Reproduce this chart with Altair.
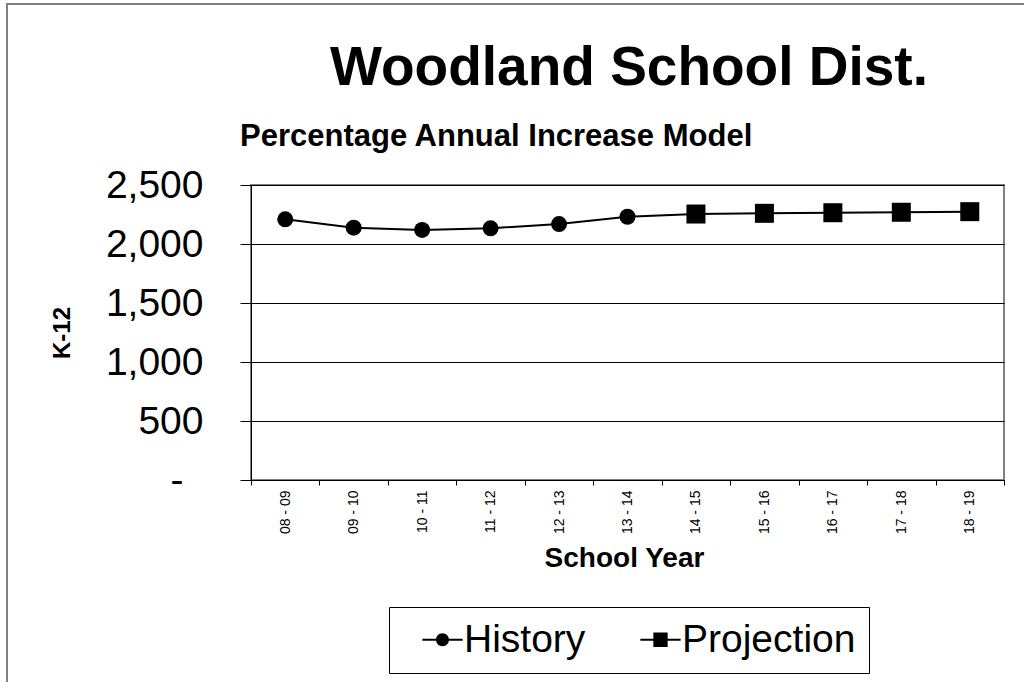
import altair as alt
import pandas as pd

# ---- data ----
school_years = ["08 - 09", "09 - 10", "10 - 11", "11 - 12", "12 - 13", "13 - 14",
                "14 - 15", "15 - 16", "16 - 17", "17 - 18", "18 - 19"]
k12_enrollment = [2209, 2138, 2119, 2133, 2169, 2231, 2254, 2260, 2265, 2269, 2274]
series_names = ["History", "History", "History", "History", "History", "History",
                "Projection", "Projection", "Projection", "Projection", "Projection"]
legend_labels = ["History", "Projection"]
y_ticks = [0, 500, 1000, 1500, 2000, 2500]
chart_title = "Woodland School Dist."
chart_subtitle = "Percentage Annual Increase Model"
x_title = "School Year"
y_title = "K-12"

FONT = "Liberation Sans"
W, H = 753, 295
PAD = {"left": 251, "top": 185, "right": 20, "bottom": 202}

df = pd.DataFrame({"year": school_years, "k12": k12_enrollment, "series": series_names})

x_enc = alt.X(
    "year:N", sort=school_years,
    scale=alt.Scale(type="band", paddingInner=0, paddingOuter=0),
    axis=alt.Axis(
        title=x_title, labelAngle=270, labelFontSize=14, labelFont=FONT, labelColor="black",
        tickBand="extent", tickSize=5, tickColor="black", labelPadding=5,
        domainColor="black", domainWidth=1, grid=False,
        titleFont=FONT, titleFontSize=28, titleFontWeight="bold", titleColor="black",
        titleY=86, titleX=373, titleBaseline="alphabetic",
    ),
)
y_enc = alt.Y(
    "k12:Q",
    scale=alt.Scale(domain=[0, 2500], nice=False, zero=True),
    axis=alt.Axis(
        values=y_ticks,
        labelExpr="datum.value == 0 ? '-' : format(datum.value, ',')",
        labelFont=FONT, labelFontSize=39, labelColor="black",
        labelPadding={"condition": {"test": "datum.value == 0", "value": 57}, "value": 37},
        tickSize=11, tickColor="black", domainColor="black", domainWidth=1,
        grid=True, gridColor="black", gridWidth=1,
        title=y_title, titleFont=FONT, titleFontSize=24, titleFontWeight="bold",
        titleColor="black", titleX=-189, titleY=H / 2, titleAngle=270,
        titleAlign="center", titleBaseline="middle",
    ),
)

base = alt.Chart(df)

line = base.mark_line(color="black", strokeWidth=2).encode(x=x_enc, y=y_enc)

points = base.mark_point(filled=True, opacity=1, color="black").encode(
    x=x_enc, y=y_enc,
    shape=alt.Shape("series:N", scale=alt.Scale(domain=legend_labels, range=["circle", "square"]), legend=None),
    size=alt.Size("series:N", scale=alt.Scale(domain=legend_labels, range=[256, 361]), legend=None),
)

# legend glyphs: a short line (thin filled bar) with the marker on it
circle_path = "M-3.1,-0.15H3.1V0.15H-3.1Z M-1,0A1,1,0,1,1,1,0A1,1,0,1,1,-1,0Z"
square_path = "M-3.1,-0.15H3.1V0.15H-3.1Z M-1.1,-1.1H1.1V1.1H-1.1Z"

legend_layer = base.transform_filter("false").mark_point(
    filled=True, color="black", opacity=1
).encode(
    shape=alt.Shape(
        "series:N",
        scale=alt.Scale(domain=legend_labels, range=[circle_path, square_path]),
        legend=alt.Legend(
            title=None, orient="none", legendX=138, legendY=422, direction="horizontal",
            labelFont=FONT, labelFontSize=39, labelColor="black", labelLimit=0,
            symbolSize=169, symbolStrokeWidth=0, symbolFillColor="black",
            symbolOffset=21, labelOffset=2,
            columnPadding=34, padding=13, strokeColor="black", fillColor="white",
        ),
    )
)

title_layer = alt.Chart(pd.DataFrame({"t": [chart_title]})).mark_text(
    font=FONT, fontSize=55, fontWeight="bold", align="center", baseline="alphabetic", color="black"
).encode(x=alt.value(W / 2 + 1.5), y=alt.value(-100), text="t:N")

subtitle_layer = alt.Chart(pd.DataFrame({"t": [chart_subtitle]})).mark_text(
    font=FONT, fontSize=31, fontWeight="bold", align="left", baseline="alphabetic", color="black"
).encode(x=alt.value(-11), y=alt.value(-39), text="t:N")

border_df = pd.DataFrame({"k": [0]})
border_left = alt.Chart(border_df).mark_rule(color="#808080", strokeWidth=2).encode(
    x=alt.value(-244), y=alt.value(-182), y2=alt.value(682 - 185)
)
border_top = alt.Chart(border_df).mark_rule(color="#808080", strokeWidth=2).encode(
    x=alt.value(-245), x2=alt.value(1024 - 251), y=alt.value(-181)
)

chart = alt.layer(
    border_left, border_top, line, points, legend_layer, title_layer, subtitle_layer
).resolve_scale(shape="independent", size="independent").properties(
    width=W, height=H, padding=PAD, autosize=alt.AutoSizeParams(type="none"),
    background="white",
).configure_view(stroke="#808080", strokeWidth=2)

chart.save("out.html", embed_options={"renderer": "svg", "actions": False})
